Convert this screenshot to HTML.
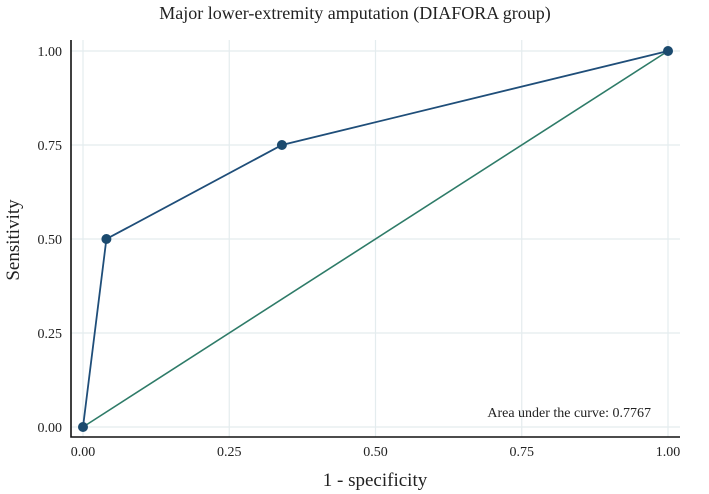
<!DOCTYPE html>
<html><head><meta charset="utf-8"><style>
html,body{margin:0;padding:0;background:#fff;}
svg{display:block;font-family:"Liberation Serif",serif;}
</style></head><body>
<svg id="c" width="709" height="494"></svg>
<script>
const xTicks=[0,0.25,0.5,0.75,1];
const yTicks=[0,0.25,0.5,0.75,1];
const tickLabels=["0.00","0.25","0.50","0.75","1.00"];
const fpr=[0,0.04,0.34,1];
const tpr=[0,0.5,0.75,1];
const auc="0.7767";
const NS="http://www.w3.org/2000/svg";
const svg=document.getElementById('c');
const X=v=>83+v*585, Y=v=>427-v*376;
function mk(t,a,p){const e=document.createElementNS(NS,t);for(const k in a)e.setAttribute(k,a[k]);(p||svg).appendChild(e);return e;}
xTicks.forEach((v,i)=>{const l=mk('line',{x1:X(v),x2:X(v),y1:40,y2:437,stroke:'#e4ecee','stroke-width':1.2});


const t=mk('text',{x:X(v),y:456,'text-anchor':'middle','font-size':14,fill:'#222'});t.textContent=tickLabels[i];

});
yTicks.forEach((v,i)=>{const l=mk('line',{x1:71,x2:680,y1:Y(v),y2:Y(v),stroke:'#e4ecee','stroke-width':1.2});


const t=mk('text',{x:62,y:Y(v)+5,'text-anchor':'end','font-size':14,fill:'#222'});t.textContent=tickLabels[i];

});
const ax=mk('path',{d:'M71 40 V437 H680',fill:'none',stroke:'#111','stroke-width':1.6});


const ref=mk('line',{x1:X(0),y1:Y(0),x2:X(1),y2:Y(1),stroke:'#2e7b68','stroke-width':1.6});


const roc=mk('polyline',{points:fpr.map((v,i)=>X(v)+','+Y(tpr[i])).join(' '),fill:'none',stroke:'#1f4e79','stroke-width':1.8});


fpr.forEach((v,i)=>{const c=mk('circle',{cx:X(v),cy:Y(tpr[i]),r:5,fill:'#1b4a6e'});

});
const ti=mk('text',{x:355,y:19,'text-anchor':'middle','font-size':18,fill:'#222'});ti.textContent='Major lower-extremity amputation (DIAFORA group)';


const xt=mk('text',{x:375,y:486,'text-anchor':'middle','font-size':19,fill:'#222'});xt.textContent='1 - specificity';


const yt=mk('text',{x:0,y:0,'text-anchor':'middle','font-size':19,fill:'#222',transform:'translate(19,240) rotate(-90)'});yt.textContent='Sensitivity';


const at=mk('text',{x:651,y:417,'text-anchor':'end','font-size':14,fill:'#222'});at.textContent='Area under the curve: '+auc;


</script>
</body></html>
